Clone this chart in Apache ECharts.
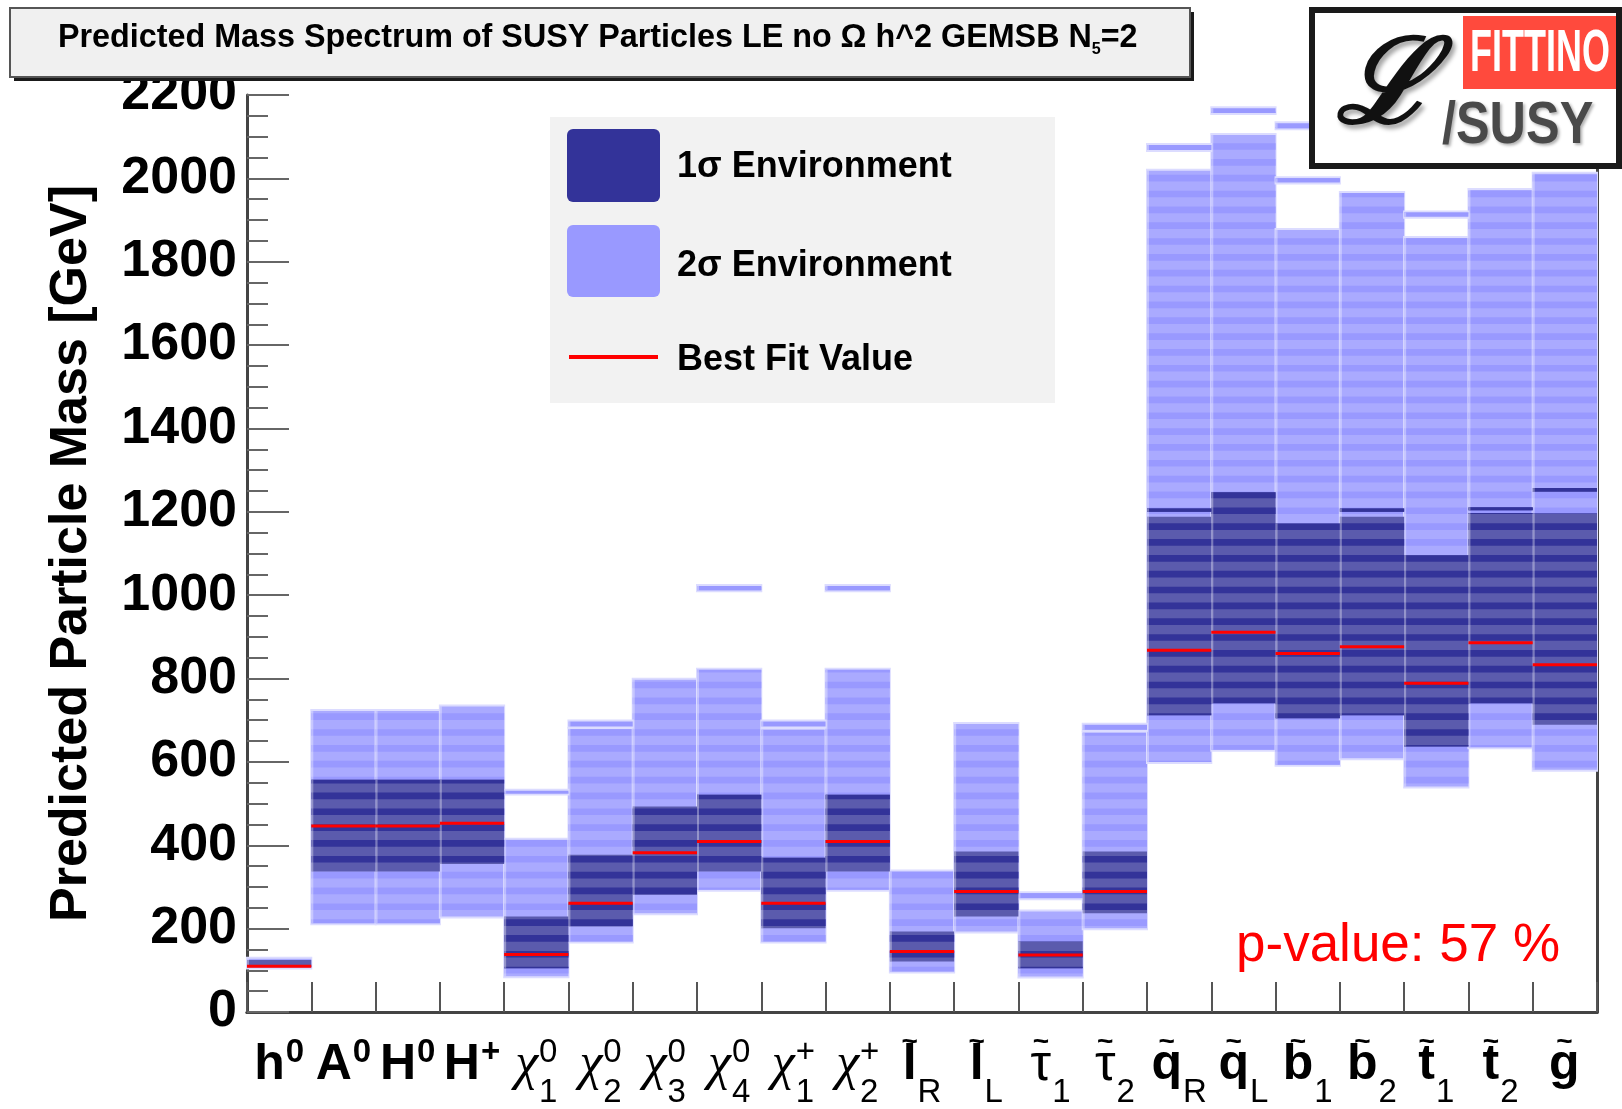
<!DOCTYPE html>
<html>
<head>
<meta charset="utf-8">
<title>Predicted Mass Spectrum of SUSY Particles</title>
<script src="https://cdn.jsdelivr.net/npm/echarts@6/dist/echarts.min.js"></script>
<style>
  html, body { margin: 0; padding: 0; background: #fff; }
  #chart { width: 1622px; height: 1109px; }
</style>
</head>
<body>
<div id="chart"></div>
<script>
// ---- particle categories and axis labels ----
const categories = ['h0', 'A0', 'H0', 'H+', 'chi01', 'chi02', 'chi03', 'chi04', 'chi1+', 'chi2+',
  'selR', 'selL', 'stau1', 'stau2', 'sqR', 'sqL', 'sb1', 'sb2', 'st1', 'st2', 'gluino'];
const labelMain  = ['h', 'A', 'H', 'H', 'χ', 'χ', 'χ', 'χ', 'χ', 'χ', 'l', 'l', 'τ', 'τ', 'q', 'q', 'b', 'b', 't', 't', 'g'];
const labelSup   = ['0', '0', '0', '+', '0', '0', '0', '0', '+', '+', '', '', '', '', '', '', '', '', '', '', ''];
const labelSub   = ['', '', '', '', '1', '2', '3', '4', '1', '2', 'R', 'L', '1', '2', 'R', 'L', '1', '2', '1', '2', ''];
const labelTilde = [0, 0, 0, 0, 0, 0, 0, 0, 0, 0, 1, 1, 1, 1, 1, 1, 1, 1, 1, 1, 1];
const labelStyle = ['b', 'b', 'b', 'b', 'g', 'g', 'g', 'g', 'g', 'g', 'b', 'b', 'r', 'r', 'b', 'b', 'b', 'b', 'b', 'b', 'b'];

// ---- mass ranges in GeV ----
const sigma2Low  = [107, 213, 213, 229,  86, 169, 237, 293, 169, 293,  97, 193,  85, 201,  600,  629,  593,  609,  541,  635,  581];
const sigma2High = [128, 722, 722, 733, 413, 679, 797, 821, 677, 821, 337, 691, 241, 670, 2018, 2104, 1876, 1965, 1857, 1972, 2011];
const sigma1Low  = [108, 337, 337, 355, 105, 205, 281, 337, 201, 337, 121, 229, 105, 237,  712,  741,  705,  712,  637,  741,  689];
const sigma1High = [125, 557, 557, 557, 229, 377, 493, 521, 370, 521, 193, 385, 169, 385, 1188, 1247, 1172, 1188, 1096, 1197, 1196];
const bestFit    = [110, 446, 446, 453, 138, 261, 382, 409, 261, 409, 145, 289, 137, 289,  868,  911,  860,  876,  789,  886,  833];

// detached bins: [category index, low, high]
const island2 = [[4, 524, 531], [5, 685, 697], [7, 1012, 1022], [8, 685, 697], [9, 1012, 1022],
  [12, 273, 285], [13, 677, 689], [14, 2068, 2080], [15, 2157, 2168], [16, 1990, 2000],
  [16, 2120, 2132], [18, 1908, 1918]];
const island1 = [[14, 1200, 1208], [17, 1200, 1208], [19, 1204, 1211], [20, 1248, 1257]];

const yTicks = [0, 200, 400, 600, 800, 1000, 1200, 1400, 1600, 1800, 2000, 2200];
const legendNames = ['1σ Environment', '2σ Environment', 'Best Fit Value'];
const pValueText = 'p-value: 57 %';

// ---- colours ----
const C2 = '#aaaaff', C2dark = '#9999ff', C2halo = '#dcdcff';
const C1 = '#5b5bad', C1dark = '#333399';
const RED = '#ff0000';

// histogram bin shading
const BIN = 38, BIN_ON = 16.5, BIN_OFF = 32.5;

const FONT = '"Liberation Sans", "DejaVu Sans", Arial, sans-serif';
const SERIF = '"Liberation Serif", "DejaVu Serif", serif';

const measureCtx = document.createElement('canvas').getContext('2d');
function textWidth(str, font) { measureCtx.font = font; return measureCtx.measureText(str).width; }

function bandShapes(api, i, lo, hi, base, dark, halo) {
  const w = api.size([1, 0])[0];
  const x0 = api.coord([i, lo])[0] - w / 2;
  const yLo = api.coord([i, lo])[1];
  const yHi = api.coord([i, hi])[1];
  const kids = [];
  if (halo) {
    kids.push({ type: 'rect', shape: { x: x0 - 1, y: yHi - 2, width: w + 2, height: yLo - yHi + 4 }, style: { fill: halo } });
  }
  kids.push({ type: 'rect', shape: { x: x0, y: yHi, width: w, height: yLo - yHi }, style: { fill: base } });
  for (let k = Math.floor(lo / BIN) - 1; k * BIN < hi; k++) {
    const a = Math.max(lo, k * BIN + BIN_ON);
    const b = Math.min(hi, k * BIN + BIN_OFF);
    if (b > a) {
      const ya = api.coord([i, a])[1], yb = api.coord([i, b])[1];
      kids.push({ type: 'rect', shape: { x: x0, y: yb, width: w, height: ya - yb }, style: { fill: dark } });
    }
  }
  kids.push({ type: 'rect', shape: { x: x0, y: yHi, width: 2, height: yLo - yHi }, style: { fill: 'rgba(255,255,255,0.35)' } });
  return { type: 'group', children: kids };
}

const chart = echarts.init(document.getElementById('chart'), null, { renderer: 'canvas' });

const option = {
  animation: false,
  backgroundColor: '#ffffff',
  grid: { left: 247, right: 25, top: 95, bottom: 97, containLabel: false, outerBoundsMode: 'none' },
  xAxis: [
    {
      type: 'category', data: categories, boundaryGap: true, position: 'bottom',
      axisLine: { show: true, lineStyle: { color: '#444', width: 3 } },
      axisTick: { show: true, inside: true, length: 30, interval: 0, alignWithLabel: false, lineStyle: { color: '#555', width: 2 } },
      axisLabel: { show: false },
      splitLine: { show: false }
    },
    {
      type: 'category', data: categories, position: 'top',
      axisLine: { show: true, lineStyle: { color: '#444', width: 3 } },
      axisTick: { show: false }, axisLabel: { show: false }, splitLine: { show: false }
    }
  ],
  yAxis: [
    {
      type: 'value', min: yTicks[0], max: yTicks[yTicks.length - 1], interval: 200, position: 'left',
      name: 'Predicted Particle Mass [GeV]', nameLocation: 'middle', nameGap: 149,
      nameTextStyle: { fontSize: 52, fontWeight: 'bold', color: '#000', fontFamily: FONT },
      axisLine: { show: true, lineStyle: { color: '#444', width: 3 } },
      axisTick: { show: true, inside: true, length: 42, lineStyle: { color: '#666', width: 2 } },
      minorTick: { show: true, splitNumber: 4, length: 21, lineStyle: { color: '#666', width: 2 } },
      axisLabel: {
        show: true, fontSize: 52, fontWeight: 'bold', color: '#000', fontFamily: FONT, margin: 10,
        formatter: v => String(v)
      },
      splitLine: { show: false }
    },
    {
      type: 'value', min: yTicks[0], max: yTicks[yTicks.length - 1], position: 'right',
      axisLine: { show: true, lineStyle: { color: '#444', width: 3 } },
      axisTick: { show: false }, axisLabel: { show: false }, splitLine: { show: false }
    }
  ],
  series: [
    {
      name: legendNames[1], type: 'custom', z: 2,
      data: categories.map((c, i) => [i, sigma2Low[i], sigma2High[i]]),
      renderItem: (params, api) => bandShapes(api, api.value(0), api.value(1), api.value(2), C2, C2dark, C2halo)
    },
    {
      name: legendNames[1] + ' (detached bins)', type: 'custom', z: 2,
      data: island2,
      renderItem: (params, api) => bandShapes(api, api.value(0), api.value(1), api.value(2), C2dark, C2dark, C2halo)
    },
    {
      name: legendNames[0], type: 'custom', z: 3,
      data: categories.map((c, i) => [i, sigma1Low[i], sigma1High[i]]),
      renderItem: (params, api) => bandShapes(api, api.value(0), api.value(1), api.value(2), C1, C1dark, null)
    },
    {
      name: legendNames[0] + ' (detached bins)', type: 'custom', z: 3,
      data: island1,
      renderItem: (params, api) => bandShapes(api, api.value(0), api.value(1), api.value(2), C1dark, C1dark, null)
    },
    {
      name: legendNames[2], type: 'custom', z: 4,
      data: categories.map((c, i) => [i, bestFit[i]]),
      renderItem: (params, api) => {
        const w = api.size([1, 0])[0];
        const p = api.coord([api.value(0), api.value(1)]);
        return { type: 'rect', shape: { x: p[0] - w / 2, y: p[1] - 1.5, width: w, height: 3 }, style: { fill: RED } };
      }
    },
    {
      name: 'particle labels', type: 'custom', z: 5, clip: false, silent: true,
      data: categories.map((c, i) => [i, 0]),
      renderItem: (params, api) => {
        const i = api.value(0);
        const p = api.coord([i, 0]);
        const cx = p[0], axisY = p[1];
        const st = labelStyle[i];
        const mainFont = st === 'b' ? 'bold 50px ' + FONT : (st === 'g' ? 'italic 52px ' + SERIF : '52px ' + FONT);
        const supFont = (st === 'b' ? 'bold ' : '') + '33px ' + FONT;
        const subFont = '33px ' + FONT;
        const mainW = textWidth(labelMain[i], mainFont);
        const scriptW = Math.max(labelSup[i] ? textWidth(labelSup[i], supFont) : 0, labelSub[i] ? textWidth(labelSub[i], subFont) : 0);
        const x0 = cx - (mainW + scriptW + 1) / 2;
        const kids = [{
          type: 'text', x: x0, y: axisY + 71 - 0.35 * 50,
          style: { text: labelMain[i], font: mainFont, fill: '#000', align: 'left', verticalAlign: 'middle' }
        }];
        if (labelSup[i]) kids.push({
          type: 'text', x: x0 + mainW + 1, y: axisY + 52 - 0.35 * 33,
          style: { text: labelSup[i], font: supFont, fill: '#000', align: 'left', verticalAlign: 'middle' }
        });
        if (labelSub[i]) kids.push({
          type: 'text', x: x0 + mainW + 1, y: axisY + 92 - 0.35 * 33,
          style: { text: labelSub[i], font: subFont, fill: '#000', align: 'left', verticalAlign: 'middle' }
        });
        if (labelTilde[i]) kids.push({
          type: 'text', x: x0 + mainW / 2, y: axisY + 30,
          style: { text: '~', font: 'bold 28px ' + FONT, fill: '#000', align: 'center', verticalAlign: 'middle' }
        });
        return { type: 'group', children: kids };
      }
    }
  ],
  graphic: [
    // title panel
    { type: 'rect', z: 100, shape: { x: 14, y: 12, width: 1180, height: 69 }, style: { fill: '#1a1a1a' } },
    { type: 'rect', z: 101, shape: { x: 10, y: 8, width: 1180, height: 69 }, style: { fill: '#f0f0f0', stroke: '#555', lineWidth: 2 } },
    {
      type: 'text', z: 102, x: 58, y: 38, scaleX: 0.95,
      style: {
        text: '{t|Predicted Mass Spectrum of SUSY Particles LE no Ω h^2 GEMSB N}{s|5}{t|=2}',
        align: 'left', verticalAlign: 'middle', fill: '#000',
        rich: {
          t: { fontSize: 34, fontWeight: 'bold', fontFamily: FONT, fill: '#000', lineHeight: 40, verticalAlign: 'middle' },
          s: { fontSize: 17, fontWeight: 'bold', fontFamily: FONT, fill: '#000', lineHeight: 40, verticalAlign: 'bottom' }
        }
      }
    },
    // legend
    { type: 'rect', z: 50, shape: { x: 550, y: 117, width: 505, height: 286 }, style: { fill: '#f2f2f2' } },
    { type: 'rect', z: 51, shape: { x: 567, y: 129, width: 93, height: 73, r: 6 }, style: { fill: C1dark } },
    { type: 'rect', z: 51, shape: { x: 567, y: 225, width: 93, height: 72, r: 6 }, style: { fill: C2dark } },
    { type: 'rect', z: 51, shape: { x: 569, y: 355, width: 89, height: 4 }, style: { fill: RED } },
    { type: 'text', z: 52, x: 677, y: 167, style: { text: legendNames[0], fontSize: 36, fontWeight: 'bold', fontFamily: FONT, fill: '#000', align: 'left', verticalAlign: 'middle' } },
    { type: 'text', z: 52, x: 677, y: 266, style: { text: legendNames[1], fontSize: 36, fontWeight: 'bold', fontFamily: FONT, fill: '#000', align: 'left', verticalAlign: 'middle' } },
    { type: 'text', z: 52, x: 677, y: 360, style: { text: legendNames[2], fontSize: 36, fontWeight: 'bold', fontFamily: FONT, fill: '#000', align: 'left', verticalAlign: 'middle' } },
    // p-value
    { type: 'text', z: 52, x: 1236, y: 946, style: { text: pValueText, fontSize: 53, fontFamily: FONT, fill: RED, align: 'left', verticalAlign: 'middle' } },
    // logo
    { type: 'rect', z: 100, shape: { x: 1312, y: 10, width: 307, height: 156 }, style: { fill: '#fff', stroke: '#1a1a1a', lineWidth: 6 } },
    { type: 'rect', z: 101, shape: { x: 1463, y: 16, width: 153, height: 73 }, style: { fill: '#ff4a3d' } },
    { type: 'text', z: 102, x: 1540, y: 54, scaleX: 0.6, style: { text: 'FITTINO', fontSize: 60, fontWeight: 'bold', fontFamily: FONT, fill: '#fff', align: 'center', verticalAlign: 'middle' } },
    { type: 'text', z: 103, x: 1385, y: 92, style: { text: 'ℒ', fontSize: 118, fontStyle: 'italic', fontWeight: 'bold', fontFamily: SERIF, fill: '#111', align: 'center', verticalAlign: 'middle', textShadowColor: 'rgba(0,0,0,0.35)', textShadowBlur: 4, textShadowOffsetX: 3, textShadowOffsetY: 4 } },
    { type: 'text', z: 102, x: 1442, y: 126, scaleX: 0.84, style: { text: '/SUSY', fontSize: 60, fontWeight: 'bold', fontFamily: FONT, fill: '#4a4a4a', align: 'left', verticalAlign: 'middle', textShadowColor: 'rgba(0,0,0,0.3)', textShadowBlur: 3, textShadowOffsetX: 2, textShadowOffsetY: 2 } }
  ]
};

chart.setOption(option);
</script>
</body>
</html>
